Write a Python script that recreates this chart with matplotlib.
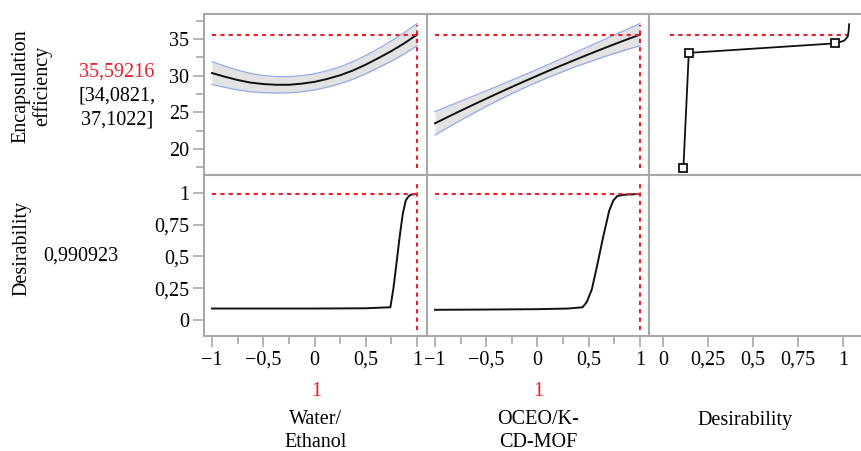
import matplotlib
matplotlib.use("Agg")
import matplotlib.pyplot as plt
from matplotlib.ticker import FuncFormatter, MultipleLocator

plt.rcParams["font.family"] = ["Liberation Serif", "DejaVu Serif"]

# factor grid (coded levels)
x_grid = [-1, -0.875, -0.75, -0.625, -0.5, -0.375, -0.25, -0.125, 0,
          0.125, 0.25, 0.375, 0.5, 0.625, 0.75, 0.875, 1]

# encapsulation efficiency vs Water/Ethanol
water_ee = [30.35, 29.85, 29.4, 29.05, 28.85, 28.75, 28.75, 28.9, 29.15,
            29.55, 30.05, 30.7, 31.5, 32.4, 33.35, 34.4, 35.59]
water_lo = [28.8, 28.4, 28.05, 27.8, 27.68, 27.63, 27.65, 27.8, 28.05,
            28.43, 28.9, 29.5, 30.25, 31.1, 31.97, 32.95, 34.08]
water_hi = [31.9, 31.3, 30.75, 30.3, 30.02, 29.87, 29.85, 30.0, 30.25,
            30.67, 31.2, 31.9, 32.75, 33.7, 34.73, 35.85, 37.10]

# encapsulation efficiency vs OCEO/K-CD-MOF
ratio_ee = [23.5, 24.36, 25.21, 26.04, 26.86, 27.67, 28.46, 29.24, 30.0,
            30.75, 31.48, 32.2, 32.91, 33.6, 34.28, 34.94, 35.59]
ratio_lo = [21.9, 22.91, 23.91, 24.86, 25.79, 26.69, 27.54, 28.36, 29.13,
            29.87, 30.56, 31.22, 31.85, 32.45, 33.02, 33.56, 34.08]
ratio_hi = [25.1, 25.81, 26.51, 27.22, 27.93, 28.65, 29.38, 30.12, 30.87,
            31.63, 32.4, 33.18, 33.97, 34.75, 35.54, 36.32, 37.10]

# desirability traces
water_dx = [-1, -0.5, 0, 0.5, 0.74, 0.77, 0.8, 0.83, 0.86, 0.89, 0.92, 0.95, 1.0]
water_d = [0.09, 0.09, 0.09, 0.092, 0.10, 0.25, 0.45, 0.65, 0.83, 0.94, 0.975, 0.987, 0.991]
ratio_dx = [-1, -0.5, 0, 0.3, 0.44, 0.48, 0.53, 0.58, 0.64, 0.70, 0.74, 0.78, 0.85, 1.0]
ratio_d = [0.08, 0.082, 0.085, 0.09, 0.10, 0.14, 0.24, 0.42, 0.65, 0.86, 0.94, 0.975, 0.985, 0.991]

# desirability function of the response
desir_x = [0.113, 0.143, 0.957, 1.005, 1.025, 1.03, 1.033]
desir_ee = [17.45, 33.1, 34.4, 34.75, 35.3, 36.0, 37.0]
desir_marks = 3

ee_opt = 35.59216
d_opt = 0.990923
x_opt = 1

RED = "#e8202a"
GRAY = "#a8a8a8"
W, H = 861, 451

fig = plt.figure(figsize=(W / 100, H / 100), dpi=100)


def px_axes(left, top, right, bottom):
    return fig.add_axes([left / W, 1 - bottom / H, (right - left) / W, (bottom - top) / H])


def fmt(v, pos):
    return ("%g" % v).replace(".", ",").replace("-", "\u2212")


def style(ax):
    for sp in ax.spines.values():
        sp.set_color(GRAY)
        sp.set_linewidth(1.5)
    ax.tick_params(which="both", color=GRAY, width=1.2, labelsize=14.5, pad=2.5)
    ax.tick_params(which="major", length=8)
    ax.tick_params(which="minor", length=6)
    ax.tick_params(bottom=False, left=False, labelbottom=False, labelleft=False)
    ax.tick_params(which="minor", bottom=False, left=False)


cols = [(204, 428), (427, 649), (649, 863)]
rows = [(14, 175), (175, 336)]
xlims = [(-1.078, 1.107), (-1.078, 1.088), (-0.078, 1.11)]

axes = {}
for r, (t, b) in enumerate(rows):
    for c, (l, rr) in enumerate(cols):
        ax = px_axes(l, t, rr, b)
        style(ax)
        ax.set_xlim(*xlims[c])
        axes[r, c] = ax

for c in range(3):
    axes[0, c].set_ylim(16.45, 38.4)
    axes[1, c].set_ylim(-0.126, 1.14)

# y axes on left column
a = axes[0, 0]
a.tick_params(left=True, labelleft=True)
a.tick_params(which="minor", left=True)
a.yaxis.set_major_locator(MultipleLocator(5))
a.yaxis.set_minor_locator(MultipleLocator(2.5))
a = axes[1, 0]
a.tick_params(left=True, labelleft=True)
a.yaxis.set_major_locator(MultipleLocator(0.25))
a.yaxis.set_major_formatter(FuncFormatter(fmt))

# x axes on bottom row
for c in range(2):
    a = axes[1, c]
    a.tick_params(bottom=True, labelbottom=True)
    a.tick_params(which="minor", bottom=True)
    a.xaxis.set_major_locator(MultipleLocator(0.5))
    a.xaxis.set_minor_locator(MultipleLocator(0.25))
    a.xaxis.set_major_formatter(FuncFormatter(fmt))
a = axes[1, 2]
a.tick_params(bottom=True, labelbottom=True)
a.xaxis.set_major_locator(MultipleLocator(0.25))
a.xaxis.set_major_formatter(FuncFormatter(fmt))

# response traces with confidence bands
for c, (ee, lo, hi) in enumerate([(water_ee, water_lo, water_hi),
                                  (ratio_ee, ratio_lo, ratio_hi)]):
    ax = axes[0, c]
    ax.fill_between(x_grid, lo, hi, color="#e2e2e2", lw=0)
    ax.plot(x_grid, lo, color="#93aae6", lw=0.9)
    ax.plot(x_grid, hi, color="#93aae6", lw=0.9)
    ax.plot(x_grid, ee, color="#111111", lw=1.4)
    ax.plot([-1, x_opt], [ee_opt, ee_opt], color=RED, lw=1.5, ls=(0, (2, 2)))
    ax.plot([x_opt, x_opt], [17.4, 36.95], color=RED, lw=1.5, ls=(0, (2, 2)))

for c, (dx, d) in enumerate([(water_dx, water_d), (ratio_dx, ratio_d)]):
    ax = axes[1, c]
    ax.plot(dx, d, color="#111111", lw=1.4)
    ax.plot([-1, x_opt], [d_opt, d_opt], color=RED, lw=1.5, ls=(0, (2, 2)))
    ax.plot([x_opt, x_opt], [-0.08, 1.08], color=RED, lw=1.5, ls=(0, (2, 2)))

ax = axes[0, 2]
ax.plot([0.04, 1.02], [ee_opt, ee_opt], color=RED, lw=1.5, ls=(0, (2, 2)))
ax.plot(desir_x, desir_ee, color="#111111", lw=1.3)
ax.plot(desir_x[:desir_marks], desir_ee[:desir_marks], ls="none", marker="s",
        ms=6, mfc="white", mec="#111111", mew=1.3)

# side labels
fs = 14.5
fig.text(32 / W, 1 - 86 / H, "Encapsulation\nefficiency", rotation=90,
         ha="center", va="center", fontsize=fs, linespacing=1.15)
fig.text(117 / W, 1 - 72 / H, "35,59216", color=RED, ha="center", va="center", fontsize=fs)
fig.text(117 / W, 1 - 96 / H, "[34,0821,", ha="center", va="center", fontsize=fs)
fig.text(117 / W, 1 - 120 / H, "37,1022]", ha="center", va="center", fontsize=fs)
fig.text(22 / W, 1 - 248 / H, "Desirability", rotation=90, ha="center", va="center", fontsize=fs)
fig.text(81 / W, 1 - 256 / H, "0,990923", ha="center", va="center", fontsize=fs)

# bottom labels
fig.text(316 / W, 1 - 392 / H, "1", color=RED, ha="center", va="center", fontsize=fs)
fig.text(316 / W, 1 - 431 / H, "Water/\nEthanol", ha="center", va="center",
         fontsize=fs, linespacing=1.3)
fig.text(538 / W, 1 - 392 / H, "1", color=RED, ha="center", va="center", fontsize=fs)
fig.text(538 / W, 1 - 431 / H, "OCEO/K-\nCD-MOF", ha="center", va="center",
         fontsize=fs, linespacing=1.3)
fig.text(745 / W, 1 - 420 / H, "Desirability", ha="center", va="center", fontsize=fs)

fig.savefig("out.png", dpi=100)
